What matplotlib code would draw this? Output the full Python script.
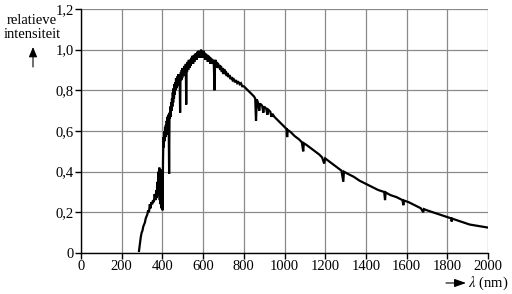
import matplotlib
matplotlib.use("Agg")
import matplotlib.pyplot as plt
from matplotlib.patches import FancyArrowPatch

plt.rcParams['font.family'] = ['Liberation Serif', 'DejaVu Serif']
plt.rcParams['mathtext.fontset'] = 'stix'

wavelength = [285, 290, 294, 298, 302, 306, 310, 314, 318, 322, 326, 330, 334, 338, 342, 346,
              350, 354, 358, 362, 366, 370, 373, 376, 379, 381, 383, 385, 387, 389, 391, 393,
              395, 397, 399, 401, 403, 405, 407, 409, 411, 413, 415, 417, 419, 421, 423, 425,
              427, 429, 431, 433, 435, 437, 439, 441, 443, 445, 447, 449, 451, 453, 455, 457,
              459, 461, 463, 465, 467, 469, 471, 473, 475, 477, 479, 481, 483, 485, 487, 489,
              491, 493, 495, 497, 499, 501, 503, 505, 507, 509, 511, 513, 515, 517, 519, 521,
              524, 527, 530, 533, 536, 539, 542, 545, 548, 551, 554, 557, 560, 563, 566, 569,
              572, 575, 578, 581, 584, 587, 590, 593, 596, 599, 602, 605, 608, 611, 614, 617,
              620, 623, 626, 629, 632, 635, 638, 641, 644, 647, 650, 653, 656, 658, 661, 664,
              667, 670, 673, 676, 680, 684, 688, 692, 696, 700, 704, 708, 712, 716, 720, 725,
              730, 735, 740, 745, 750, 756, 762, 768, 774, 780, 786, 792, 800, 810, 820, 830,
              840, 850, 856, 860, 864, 870, 876, 880, 890, 896, 900, 910, 916, 920, 930, 936,
              940, 950, 960, 970, 980, 990, 1000, 1010, 1013, 1016, 1030, 1050, 1070, 1085,
              1092, 1095, 1110, 1130, 1150, 1170, 1185, 1195, 1200, 1220, 1240, 1260, 1280, 1289,
              1292, 1310, 1340, 1370, 1400, 1430, 1460, 1490, 1494, 1497, 1520, 1550, 1580, 1584,
              1587, 1610, 1640, 1670, 1682, 1685, 1700, 1730, 1760, 1790, 1820, 1821, 1824, 1850,
              1880, 1910, 1940, 1970, 2000]
intensity = [0.01, 0.05, 0.08, 0.10, 0.11, 0.13, 0.14, 0.15, 0.17, 0.18, 0.19, 0.21, 0.20, 0.24, 0.22, 0.25,
             0.24, 0.26, 0.25, 0.29, 0.26, 0.31, 0.27, 0.35, 0.28, 0.40, 0.30, 0.42, 0.26, 0.36, 0.24, 0.40,
             0.22, 0.41, 0.25, 0.21, 0.45, 0.57, 0.52, 0.60, 0.55, 0.62, 0.57, 0.63, 0.58, 0.65, 0.61, 0.67,
             0.62, 0.68, 0.64, 0.39, 0.69, 0.66, 0.72, 0.67, 0.74, 0.70, 0.76, 0.72, 0.79, 0.74, 0.81, 0.76,
             0.83, 0.78, 0.84, 0.80, 0.86, 0.81, 0.85, 0.82, 0.87, 0.83, 0.88, 0.84, 0.87, 0.85, 0.69, 0.86,
             0.89, 0.85, 0.90, 0.86, 0.91, 0.87, 0.90, 0.88, 0.92, 0.87, 0.91, 0.89, 0.93, 0.73, 0.92, 0.89,
             0.94, 0.90, 0.95, 0.91, 0.95, 0.92, 0.96, 0.93, 0.97, 0.93, 0.97, 0.94, 0.98, 0.95, 0.98, 0.95,
             0.99, 0.96, 0.995, 0.97, 0.99, 0.96, 1.0, 0.97, 0.99, 0.96, 0.995, 0.97, 0.985, 0.95, 0.98, 0.96,
             0.975, 0.94, 0.97, 0.95, 0.965, 0.93, 0.96, 0.94, 0.955, 0.93, 0.95, 0.92, 0.80, 0.94, 0.95, 0.92,
             0.94, 0.91, 0.935, 0.91, 0.925, 0.90, 0.92, 0.89, 0.91, 0.88, 0.905, 0.88, 0.895, 0.87, 0.885, 0.865,
             0.875, 0.855, 0.865, 0.85, 0.855, 0.84, 0.85, 0.835, 0.84, 0.83, 0.835, 0.82, 0.82, 0.81, 0.80, 0.79,
             0.78, 0.77, 0.76, 0.65, 0.755, 0.74, 0.70, 0.735, 0.725, 0.69, 0.72, 0.71, 0.68, 0.705, 0.695, 0.67,
             0.685, 0.67, 0.66, 0.65, 0.64, 0.63, 0.62, 0.61, 0.57, 0.605, 0.595, 0.575, 0.56, 0.545,
             0.50, 0.54, 0.53, 0.515, 0.50, 0.485, 0.47, 0.44, 0.465, 0.45, 0.435, 0.42, 0.405, 0.35,
             0.40, 0.39, 0.375, 0.355, 0.34, 0.325, 0.31, 0.30, 0.26, 0.298, 0.285, 0.275, 0.26, 0.235,
             0.258, 0.25, 0.235, 0.22, 0.20, 0.216, 0.21, 0.20, 0.19, 0.18, 0.17, 0.155, 0.169, 0.16,
             0.15, 0.14, 0.135, 0.13, 0.125]

xticks = [0, 200, 400, 600, 800, 1000, 1200, 1400, 1600, 1800, 2000]
yticks = [0, 0.2, 0.4, 0.6, 0.8, 1.0, 1.2]
ytick_labels = ['0', '0,2', '0,4', '0,6', '0,8', '1,0', '1,2']

fig = plt.figure(figsize=(5.12, 2.94), dpi=100)
ax = fig.add_axes([81/512, 1 - 253/294, (488 - 81)/512, (253 - 9)/294])

ax.plot(wavelength, intensity, color='black', lw=1.6, solid_joinstyle='miter', zorder=3)

ax.set_xlim(0, 2000)
ax.set_ylim(0, 1.2)
ax.set_xticks(xticks)
ax.set_xticklabels([str(t) for t in xticks])
ax.set_yticks(yticks)
ax.set_yticklabels(ytick_labels)
ax.grid(True, color='#8a8a8a', lw=0.9)
ax.set_axisbelow(True)
for s in ['top', 'right']:
    ax.spines[s].set_visible(False)
for s in ['left', 'bottom']:
    ax.spines[s].set_color('black')
    ax.spines[s].set_linewidth(1.0)
ax.tick_params(axis='both', direction='out', length=4, width=1.0, colors='black', labelsize=10.5, pad=1)

fig.text(32/512, 1 - 20/294, 'relatieve', ha='center', va='center', fontsize=10.5)
fig.text(32/512, 1 - 35/294, 'intensiteit', ha='center', va='center', fontsize=10.5)
fig.patches.append(FancyArrowPatch(
    (33/512, 1 - 67/294), (33/512, 1 - 47/294), transform=fig.transFigure,
    arrowstyle='-|>,head_length=0.6,head_width=0.25', mutation_scale=10,
    shrinkA=0, shrinkB=0, color='black', lw=0.8))
fig.patches.append(FancyArrowPatch(
    (446/512, 1 - 283/294), (466/512, 1 - 283/294), transform=fig.transFigure,
    arrowstyle='-|>,head_length=0.7,head_width=0.25', mutation_scale=10,
    shrinkA=0, shrinkB=0, color='black', lw=0.8))
fig.text(468/512, 1 - 283/294, r'$\lambda$ (nm)', ha='left', va='center', fontsize=10.5)

fig.savefig('out.png', dpi=100, facecolor='white')
